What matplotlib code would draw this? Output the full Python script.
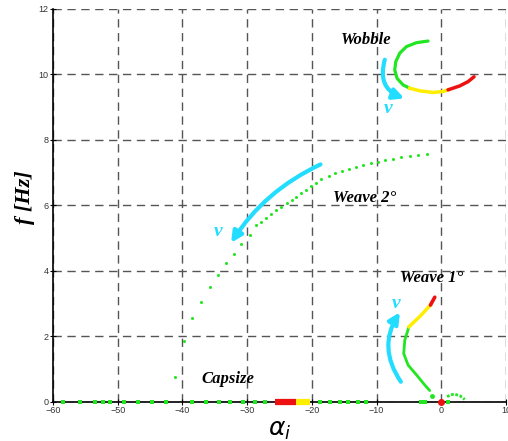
import matplotlib
matplotlib.use("Agg")
import matplotlib.pyplot as plt
from matplotlib.patches import FancyArrowPatch

# Wobble mode (green -> yellow -> red)
wob_green_x = [-2.04, -3.83, -5.38, -6.41, -7.03, -7.19, -6.83, -5.90, -4.87]
wob_green_y = [11.01, 10.96, 10.84, 10.64, 10.38, 10.13, 9.87, 9.67, 9.57]
wob_yellow_x = [-4.87, -3.32, -1.27, 0.28, 1.05]
wob_yellow_y = [9.57, 9.49, 9.44, 9.47, 9.52]
wob_red_x = [1.05, 2.86, 4.14, 5.07]
wob_red_y = [9.52, 9.64, 9.77, 9.92]

# Weave 1 mode
w1_red_x = [-1.00, -1.67]
w1_red_y = [3.19, 2.95]
w1_yellow_x = [-1.67, -3.32, -4.98]
w1_yellow_y = [2.95, 2.60, 2.29]
w1_green_x = [-4.98, -5.64, -5.80, -5.13, -3.83, -2.55, -1.78]
w1_green_y = [2.29, 1.88, 1.47, 1.12, 0.82, 0.51, 0.34]
w1_tail_x = [-1.5]
w1_tail_y = [0.17]

# small arc near origin
arc_x = [0.9, 1.4, 2.08, 2.9, 3.63]
arc_y = [0.15, 0.21, 0.23, 0.18, 0.07]

# Weave 2 mode (dotted)
w2_x = [-2.2, -3.58, -4.87, -6.15, -7.45, -8.73, -9.77, -10.79, -12.08, -13.21,
        -14.30, -15.33, -16.35, -17.39, -18.52, -19.40, -20.17, -20.84, -21.61,
        -22.39, -23.0, -23.83, -24.7, -25.47, -26.24, -27.02, -27.79, -28.56,
        -29.6, -30.88, -32.07, -33.3, -34.49, -35.77, -37.06, -38.45, -39.74, -41.19]
w2_y = [7.56, 7.53, 7.50, 7.46, 7.42, 7.38, 7.32, 7.28, 7.23, 7.16,
        7.10, 7.03, 6.97, 6.89, 6.79, 6.69, 6.57, 6.46, 6.36,
        6.26, 6.16, 6.06, 5.95, 5.85, 5.73, 5.62, 5.50, 5.38,
        5.09, 4.80, 4.50, 4.23, 3.87, 3.51, 3.05, 2.54, 1.86, 0.74]

# real-axis roots (capsize)
axis_green_x = [-58.45, -55.9, -53.55, -52.27, -51.24, -49.07, -46.86, -44.64, -42.47,
                -38.45, -36.29, -34.34, -32.7, -30.63, -28.83, -27.28, -18.78, -17.23,
                -15.69, -14.4, -12.86, -11.56, -3.06, -2.55, 1.03]
axis_red_x = [-25.74, -22.38]
axis_yellow_x = [-22.38, -20.32]

GREEN = "#22e622"
YELLOW = "#ffee00"
RED = "#ee1111"
CYAN = "#22ddff"

fig = plt.figure(figsize=(5.08, 4.41), dpi=100)
ax = fig.add_axes([0.1043, 0.0891, 0.8917, 0.8914])

ax.plot(wob_green_x, wob_green_y, color=GREEN, lw=2.3, solid_capstyle="round")
ax.plot(wob_yellow_x, wob_yellow_y, color=YELLOW, lw=2.5)
ax.plot(wob_red_x, wob_red_y, color=RED, lw=2.5, solid_capstyle="round")

ax.plot(w1_green_x, w1_green_y, color=GREEN, lw=2.0, solid_capstyle="round")
ax.plot(w1_yellow_x, w1_yellow_y, color=YELLOW, lw=2.5)
ax.plot(w1_red_x, w1_red_y, color=RED, lw=2.6, solid_capstyle="round")
ax.plot(w1_tail_x, w1_tail_y, "o", color=GREEN, ms=2.5)
ax.plot(arc_x, arc_y, color=GREEN, lw=2, ls=(0, (1, 0.6)))

ax.plot(w2_x, w2_y, "o", color=GREEN, ms=2.2, mew=0)

ax.plot(axis_green_x, [0] * len(axis_green_x), "s", color=GREEN, ms=2.5, mew=0, clip_on=False, zorder=5)
ax.plot(axis_red_x, [0, 0], color=RED, lw=4.5, solid_capstyle="butt", clip_on=False, zorder=5)
ax.plot(axis_yellow_x, [0, 0], color=YELLOW, lw=4.5, solid_capstyle="butt", clip_on=False, zorder=5)
ax.plot([0], [0], "o", color=RED, ms=4, clip_on=False, zorder=6)

# velocity arrows
for start, end, rad in [((-8.6, 10.52), (-5.3, 9.23), 0.5),
                        ((-18.27, 7.28), (-32.7, 4.78), 0.15),
                        ((-6.0, 0.54), (-6.15, 2.80), -0.35)]:
    ax.add_patch(FancyArrowPatch(start, end, connectionstyle=f"arc3,rad={rad}",
                                 arrowstyle="-|>", mutation_scale=16, lw=3,
                                 color=CYAN, zorder=4))

lab = dict(family="Liberation Serif", weight="bold", style="italic", fontsize=12)
ax.text(-11.6, 11.04, "Wobble", ha="center", va="center", **lab)
ax.text(-11.8, 6.21, "Weave 2°", ha="center", va="center", **lab)
ax.text(-1.5, 3.77, "Weave 1°", ha="center", va="center", **lab)
ax.text(-32.95, 0.68, "Capsize", ha="center", va="center", **lab)
vlab = dict(family="Liberation Serif", weight="bold", style="italic", fontsize=14,
            color=CYAN, ha="center", va="center")
ax.text(-8.2, 8.96, "v", **vlab)
ax.text(-34.5, 5.19, "v", **vlab)
ax.text(-6.9, 3.0, "v", **vlab)

ax.set_xlim(-60, 10)
ax.set_ylim(0, 12)
ax.set_xticks(range(-60, 11, 10))
ax.set_yticks(range(0, 13, 2))
ax.grid(True, color="#555555", ls=(0, (6, 4)), lw=1)
ax.spines["top"].set_visible(False)
ax.spines["right"].set_visible(False)
ax.spines["left"].set_linewidth(1.2)
ax.spines["bottom"].set_linewidth(1.2)
ax.tick_params(direction="inout", length=4, labelsize=6.5, labelcolor="#333333", pad=1)
for t in ax.get_xticklabels() + ax.get_yticklabels():
    t.set_family("Liberation Sans")

ax.set_xlabel(r"$\alpha_i$", fontsize=18, labelpad=2)
ax.set_ylabel("f [Hz]", family="Liberation Serif", weight="bold", style="italic",
              fontsize=16)
ax.yaxis.set_label_coords(-0.04, 0.52)

fig.savefig("out.png", dpi=100)
